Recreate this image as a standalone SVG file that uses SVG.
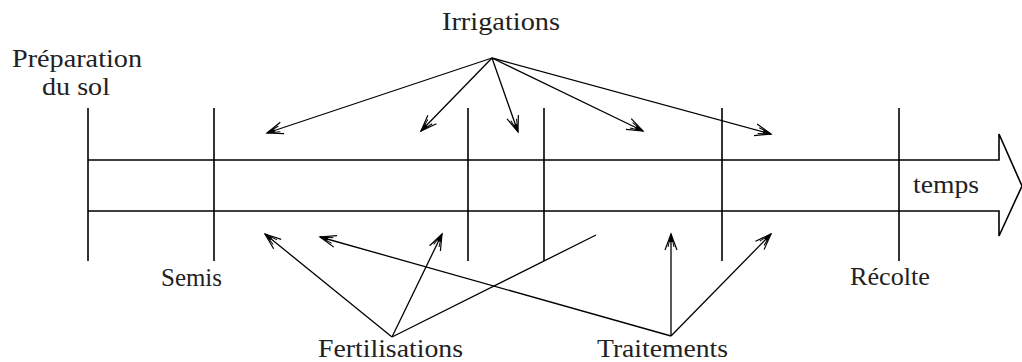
<svg xmlns="http://www.w3.org/2000/svg" width="1022" height="362" viewBox="0 0 1022 362">
<style>
.t{font-family:"Liberation Serif","Times New Roman",serif;font-size:25px;fill:#222;}
.ax{stroke:#000;stroke-width:1.6;fill:none;}
.c{stroke:#000;stroke-width:1.3;fill:none;}
</style>
<defs>
<marker id="ah" markerWidth="20" markerHeight="14" refX="17" refY="7" orient="auto" markerUnits="userSpaceOnUse">
<path d="M1,1 L17,7 L1,13" fill="none" stroke="#000" stroke-width="1.2"/>
<path d="M4,4 L17,7 L4,10" fill="none" stroke="#000" stroke-width="1"/>
<path d="M9,5 L17,7 L9,9 Z" fill="#000"/>
</marker>
</defs>
<g id="axis">
<path class="ax" d="M88,160 H999 V134 L1022,186 L999,236 V211 H88"/>
<line class="ax" x1="88" y1="108" x2="88" y2="261"/>
<line class="ax" x1="214" y1="108" x2="214" y2="261"/>
<line class="ax" x1="468" y1="108" x2="468" y2="261"/>
<line class="ax" x1="544" y1="108" x2="544" y2="261"/>
<line class="ax" x1="722" y1="108" x2="722" y2="261"/>
<line class="ax" x1="899" y1="108" x2="899" y2="261"/>
</g>
<g id="temps"><text class="t" x="913" y="193" textLength="66" lengthAdjust="spacingAndGlyphs">temps</text></g>
<g id="preparation"><text class="t" x="12" y="67" textLength="130" lengthAdjust="spacingAndGlyphs">Préparation</text><text class="t" x="42" y="95" textLength="68" lengthAdjust="spacingAndGlyphs">du sol</text></g>
<g id="semis"><text class="t" x="161" y="286" textLength="61" lengthAdjust="spacingAndGlyphs">Semis</text></g>
<g id="recolte"><text class="t" x="850" y="285" textLength="80" lengthAdjust="spacingAndGlyphs">Récolte</text></g>
<g id="irrigations"><text class="t" x="442" y="30" textLength="118" lengthAdjust="spacingAndGlyphs">Irrigations</text></g>
<g id="fertilisations"><text class="t" x="318" y="357" textLength="145" lengthAdjust="spacingAndGlyphs">Fertilisations</text></g>
<g id="traitements"><text class="t" x="597" y="357" textLength="131" lengthAdjust="spacingAndGlyphs">Traitements</text></g>
<g id="connectors">
<line class="c" x1="492" y1="58" x2="267" y2="133" marker-end="url(#ah)"/>
<line class="c" x1="492" y1="58" x2="421" y2="131" marker-end="url(#ah)"/>
<line class="c" x1="492" y1="58" x2="518" y2="132" marker-end="url(#ah)"/>
<line class="c" x1="492" y1="58" x2="643" y2="131" marker-end="url(#ah)"/>
<line class="c" x1="492" y1="58" x2="771" y2="134" marker-end="url(#ah)"/>
<line class="c" x1="392" y1="337" x2="265" y2="234" marker-end="url(#ah)"/>
<line class="c" x1="392" y1="337" x2="442" y2="234" marker-end="url(#ah)"/>
<line class="c" x1="392" y1="337" x2="596" y2="235"/>
<line class="c" x1="671" y1="336" x2="320" y2="237" marker-end="url(#ah)"/>
<line class="c" x1="671" y1="336" x2="671" y2="234" marker-end="url(#ah)"/>
<line class="c" x1="671" y1="336" x2="771" y2="234" marker-end="url(#ah)"/>
</g>
</svg>
